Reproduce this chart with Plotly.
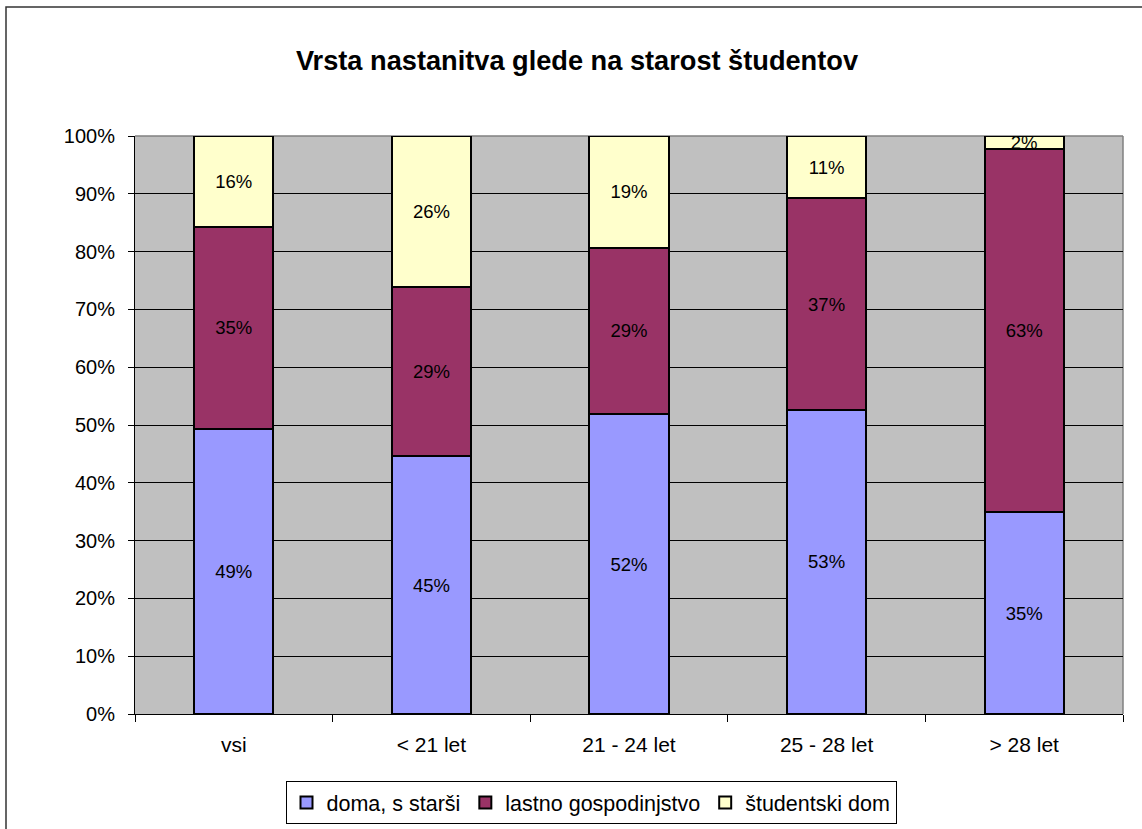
import plotly.graph_objects as go

categories = ["vsi", "< 21 let", "21 - 24 let", "25 - 28 let", "> 28 let"]
doma_s_starsi = [49.3, 44.6, 51.9, 52.6, 34.9]
lastno_gospodinjstvo = [35.0, 29.3, 28.8, 36.6, 62.8]
studentski_dom = [15.7, 26.1, 19.3, 10.8, 2.3]
series_names = ["doma, s starši", "lastno gospodinjstvo", "študentski dom"]
series_colors = ["#9999FF", "#993366", "#FFFFCC"]
y_ticks = [0, 10, 20, 30, 40, 50, 60, 70, 80, 90, 100]

FONT = "Arial, Liberation Sans, sans-serif"

fig = go.Figure()
for name, vals, col in zip(series_names,
                           [doma_s_starsi, lastno_gospodinjstvo, studentski_dom],
                           series_colors):
    fig.add_trace(go.Bar(
        x=categories, y=vals, name=name,
        marker=dict(color=col, line=dict(color="black", width=2)),
        text=[f"{round(v)}%" for v in vals],
        textposition="inside", insidetextanchor="middle",
        textfont=dict(family=FONT, size=18.5, color="black"),
        constraintext="none",
    ))

W, H = 1142, 829
L, R, T, B = 135, 1123, 136, 714
pw, ph = R - L, B - T

def px_x(x):
    return (x - L) / pw

def px_y(y):
    return (B - y) / ph

shapes = [
    # outer chart frame
    dict(type="rect", xref="paper", yref="paper",
         x0=px_x(6), x1=px_x(1200), y0=px_y(900), y1=px_y(7),
         line=dict(color="#333333", width=1.5), layer="below"),
    # plot area border top/right (gray)
    dict(type="line", xref="paper", yref="paper", x0=0, x1=1, y0=1, y1=1,
         line=dict(color="#808080", width=1.5), layer="below"),
    dict(type="line", xref="paper", yref="paper", x0=1, x1=1, y0=0, y1=1,
         line=dict(color="#808080", width=1.5), layer="below"),
]

fig.update_layout(
    width=W, height=H,
    margin=dict(l=L, r=W - R, t=T, b=H - B, pad=0),
    barmode="stack", bargap=0.6,
    paper_bgcolor="white", plot_bgcolor="#C0C0C0",
    font=dict(family=FONT, size=20, color="black"),
    title=dict(text="<b>Vrsta nastanitva glede na starost študentov</b>",
               x=(577 / W), xanchor="center", xref="container",
               y=1 - 60 / H, yanchor="middle",
               font=dict(family=FONT, size=27.2, color="black")),
    showlegend=True,
    legend=dict(orientation="h", xref="container", yref="container",
                x=591 / W, xanchor="center",
                y=1 - 781 / H, yanchor="top",
                bgcolor="white", bordercolor="black", borderwidth=1,
                font=dict(family=FONT, size=21.5, color="black"),
                itemsizing="constant", traceorder="normal",
                itemwidth=30, tracegroupgap=0),
    uniformtext=dict(minsize=18, mode="show"),
    shapes=shapes,
    xaxis=dict(showline=True, linecolor="black", linewidth=1,
               ticks="outside", tickson="boundaries", ticklen=7,
               tickcolor="black", showgrid=False, automargin=False,
               ticklabelstandoff=12,
               tickfont=dict(family=FONT, size=21, color="black")),
    yaxis=dict(range=[0, 100], tickvals=y_ticks,
               ticktext=[f"{v}%" for v in y_ticks],
               showline=True, linecolor="black", linewidth=1,
               ticks="outside", ticklen=6, tickcolor="black",
               showgrid=True, gridcolor="black", gridwidth=1,
               zeroline=False, ticklabelstandoff=9, automargin=False,
               tickfont=dict(family=FONT, size=20, color="black")),
)

fig.write_html("out.html", config={"displayModeBar": False},
               post_script="document.body.style.margin='0px';document.body.style.overflow='hidden';")
